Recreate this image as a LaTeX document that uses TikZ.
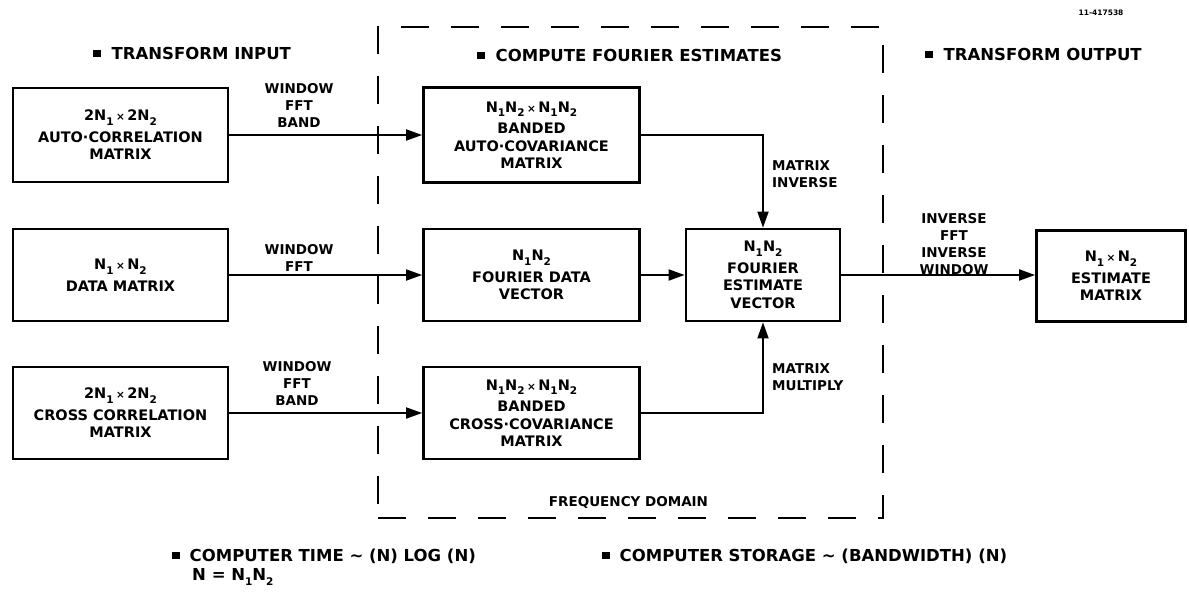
\documentclass[tikz,border=0pt]{standalone}
\usepackage{fontspec}
\setmainfont{DejaVu Sans}
\usetikzlibrary{arrows.meta}
\newcommand\sbs[1]{\raisebox{-0.6ex}{\fontsize{10.5}{10}\selectfont #1}}
\newcommand\tms{\,{\fontsize{10.5}{10}\selectfont ×}\,}
\newcommand\bul{\rule[2pt]{7.5pt}{7.5pt}}
\begin{document}
\begin{tikzpicture}[x=1pt,y=-1pt,
  box/.style={draw, line width=2.8pt, align=center, inner sep=0pt,
    font=\fontsize{14.5}{17.5}\selectfont\bfseries},
  lab/.style={align=center, inner sep=0pt, font=\fontsize{13.5}{17}\selectfont\bfseries},
  ttl/.style={anchor=west, inner sep=0pt, font=\fontsize{16.5}{20}\selectfont\bfseries},
  btx/.style={anchor=west, inner sep=0pt, font=\fontsize{16.5}{20}\selectfont\bfseries},
  conn/.style={line width=1.8pt, -{Triangle[length=16pt,width=11pt]}}]
\useasboundingbox (0,0) rectangle (1189,602);
% frequency domain dashed frame
\node[draw, line width=2pt, dash pattern=on 28pt off 22pt, minimum width=505pt,
  minimum height=491pt, inner sep=0pt] (fdom) at (630.5,272.5) {};
% section titles
\node[ttl] (t1) at (93,53) {\bul\hspace{11pt}TRANSFORM INPUT};
\node[ttl] (t2) at (477,55) {\bul\hspace{11pt}COMPUTE FOURIER ESTIMATES};
\node[ttl] (t3) at (925,54) {\bul\hspace{11pt}TRANSFORM OUTPUT};
\node[inner sep=0pt, font=\fontsize{7.5}{8}\selectfont\bfseries] (num) at (1101,13) {11-417538};
% boxes
\node[box, minimum width=215pt, minimum height=94pt] (ac) at (120.5,135)
  {2N\sbs{1}\tms 2N\sbs{2}\\[4pt]AUTO·CORRELATION\\MATRIX};
\node[box, minimum width=215pt, minimum height=92pt] (dm) at (120.5,275)
  {N\sbs{1}\tms N\sbs{2}\\[4pt]DATA MATRIX};
\node[box, minimum width=215pt, minimum height=92pt] (cc) at (120.5,413)
  {2N\sbs{1}\tms 2N\sbs{2}\\[4pt]CROSS CORRELATION\\MATRIX};
\node[box, minimum width=216pt, minimum height=95pt] (ba) at (531.5,135)
  {N\sbs{1}N\sbs{2}\tms N\sbs{1}N\sbs{2}\\[4pt]BANDED\\AUTO·COVARIANCE\\MATRIX};
\node[box, minimum width=216pt, minimum height=92pt] (fd) at (531.5,275)
  {N\sbs{1}N\sbs{2}\\[4pt]FOURIER DATA\\VECTOR};
\node[box, minimum width=216pt, minimum height=92pt] (bc) at (531.5,413)
  {N\sbs{1}N\sbs{2}\tms N\sbs{1}N\sbs{2}\\[4pt]BANDED\\CROSS·COVARIANCE\\MATRIX};
\node[box, minimum width=154pt, minimum height=92pt] (fe) at (763,275)
  {N\sbs{1}N\sbs{2}\\[4pt]FOURIER\\ESTIMATE\\VECTOR};
\node[box, minimum width=149pt, minimum height=91pt] (em) at (1111,276)
  {N\sbs{1}\tms N\sbs{2}\\[4pt]ESTIMATE\\MATRIX};
% connectors
\draw[conn] (ac.east) -- (ac.east -| ba.west);
\draw[conn] (dm) -- (fd);
\draw[conn] (cc) -- (bc);
\draw[conn] (ba.east) -| (fe.north);
\draw[conn] (fd) -- (fe);
\draw[conn] (bc.east) -| (fe.south);
\draw[conn] (fe.east) -- (fe.east -| em.west);
% connector labels
\node[lab] (l1) at (299,105) {WINDOW\\FFT\\BAND};
\node[lab] (l2) at (299,258) {WINDOW\\FFT};
\node[lab] (l3) at (297,383) {WINDOW\\FFT\\BAND};
\node[lab, anchor=west, align=left] (l4) at (772,174) {MATRIX\\INVERSE};
\node[lab, anchor=west, align=left] (l5) at (772,377) {MATRIX\\MULTIPLY};
\node[lab] (l6) at (954,244) {INVERSE\\FFT\\INVERSE\\WINDOW};
\node[lab] (l7) at (628.5,502) {FREQUENCY DOMAIN};
% footnotes
\node[btx] (b1) at (172,556) {\bul\hspace{10pt}COMPUTER TIME \textasciitilde{} (N) LOG (N)};
\node[btx] (b2) at (192,577) {N = N\sbs{1}N\sbs{2}};
\node[btx] (b3) at (602,556) {\bul\hspace{10pt}COMPUTER STORAGE \textasciitilde{} (BANDWIDTH) (N)};
\end{tikzpicture}
\end{document}
